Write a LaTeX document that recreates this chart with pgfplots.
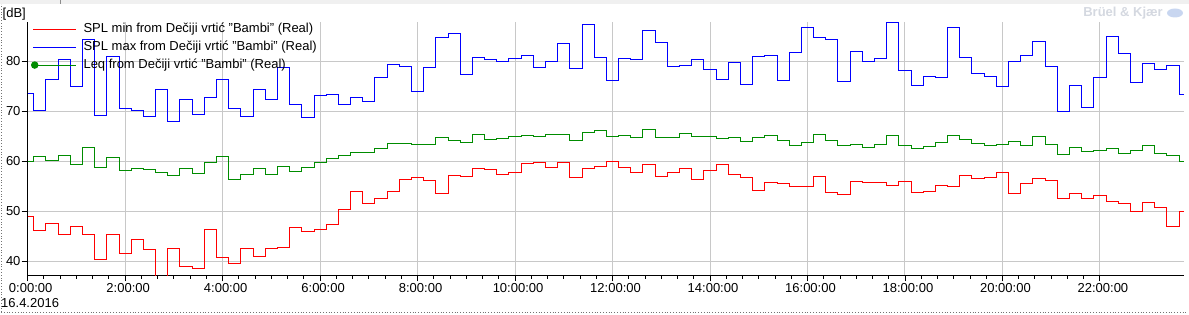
\documentclass[border=0pt]{standalone}
\usepackage{fontspec}
\setmainfont{Liberation Sans}
\usepackage{pgfplots}
\pgfplotsset{compat=1.18}
\usepackage{pgfplotstable}
\definecolor{splred}{RGB}{255,0,0}
\definecolor{splblue}{RGB}{0,0,255}
\definecolor{leqgreen}{RGB}{0,140,0}
\definecolor{gridgray}{RGB}{200,200,200}
\definecolor{logogray}{RGB}{212,216,224}
\definecolor{logoblue}{RGB}{200,214,240}

\pgfplotstableread{
t max leq min
0.00 73.6 60.0 48.9
0.25 70.2 61.0 46.1
0.50 76.4 60.1 47.6
0.75 80.4 61.2 45.4
1.00 75.0 59.4 46.9
1.25 84.3 62.8 45.4
1.50 69.2 58.8 40.4
1.75 80.9 60.8 45.4
2.00 70.5 58.2 41.6
2.25 70.2 58.5 44.4
2.50 69.0 58.3 42.4
2.75 74.4 57.8 36.0
3.00 68.0 57.2 42.5
3.25 72.3 58.5 38.9
3.50 69.4 57.6 38.6
3.75 72.8 59.8 46.3
4.00 76.4 60.9 40.8
4.25 70.5 56.4 39.5
4.50 69.0 57.4 42.6
4.75 74.4 58.6 41.0
5.00 72.3 57.4 42.5
5.25 78.8 58.9 42.7
5.50 71.4 58.0 46.8
5.75 68.8 58.8 45.9
6.00 73.2 59.7 46.3
6.25 73.4 60.6 47.4
6.50 71.4 61.1 50.4
6.75 72.8 61.8 54.0
7.00 72.0 61.8 51.5
7.25 76.8 62.6 52.6
7.50 79.4 63.6 54.0
7.75 79.0 63.6 56.4
8.00 74.0 63.4 56.8
8.25 78.8 63.4 56.2
8.50 84.8 64.8 53.6
8.75 85.6 64.2 57.2
9.00 77.4 63.8 57.0
9.25 80.8 65.4 58.6
9.50 80.4 64.4 58.4
9.75 80.0 64.6 57.4
10.00 80.6 65.0 57.8
10.25 81.2 65.2 59.6
10.50 78.8 65.0 59.8
10.75 80.0 65.4 58.8
11.00 83.6 65.4 59.8
11.25 78.6 64.2 56.8
11.50 87.4 65.8 58.6
11.75 80.8 66.2 59.0
12.00 76.2 65.0 60.0
12.25 80.6 65.2 58.8
12.50 80.4 64.8 57.8
12.75 86.2 66.4 59.4
13.00 83.8 64.8 57.0
13.25 79.0 64.8 57.8
13.50 79.2 65.6 58.6
13.75 80.4 65.0 56.4
14.00 78.4 65.0 58.2
14.25 76.4 64.6 59.4
14.50 79.8 64.8 57.4
14.75 75.4 64.0 56.8
15.00 81.0 64.8 54.2
15.25 81.2 65.2 55.8
15.50 76.2 64.2 55.6
15.75 81.8 63.2 55.0
16.00 86.8 63.8 55.0
16.25 84.8 65.4 57.0
16.50 84.4 64.2 53.8
16.75 76.0 63.2 53.4
17.00 82.0 63.4 56.0
17.25 80.0 62.8 55.8
17.50 80.6 63.4 55.8
17.75 87.8 65.2 55.2
18.00 78.2 63.2 56.0
18.25 75.2 62.6 53.8
18.50 77.0 63.0 54.0
18.75 76.8 63.8 55.2
19.00 86.8 65.2 55.0
19.25 80.8 64.4 57.2
19.50 77.6 63.6 56.6
19.75 77.0 63.2 56.8
20.00 75.0 63.4 57.8
20.25 80.0 64.0 53.6
20.50 81.2 63.2 55.6
20.75 84.0 65.0 56.6
21.00 79.0 63.4 56.2
21.25 70.0 61.4 52.6
21.50 75.2 62.8 53.6
21.75 70.8 62.0 52.6
22.00 76.8 62.2 53.2
22.25 85.0 62.6 52.0
22.50 81.6 61.6 51.6
22.75 75.8 62.2 50.0
23.00 79.6 63.2 51.8
23.25 78.4 61.6 50.8
23.50 79.2 61.2 47.0
23.75 73.4 60.0 50.0
}\datatable

\begin{document}
\begin{tikzpicture}[x=1pt,y=1pt]
\path[use as bounding box] (0,0) rectangle (1189,315);
\fill[black!6] (0,311) rectangle (1189,315);
\draw[black!45] (60,311) -- (60,315);
\draw[black!55, dotted, line width=0.8pt] (1,3) -- (1188,3);
\draw[black!55, dotted, line width=0.8pt] (1,3) -- (1,311);
\node[anchor=west, inner sep=0pt, font=\fontsize{13}{15}\selectfont] at (2.5,301) {[dB]};
\node[anchor=west, inner sep=0pt, font=\fontsize{13}{15}\selectfont] at (1,11.7) {16.4.2016};
\node[anchor=east, inner sep=0pt, text=logogray, font=\bfseries\fontsize{13}{15}\selectfont] at (1163,302) {Brüel \& Kjær};
\fill[logoblue] (1175,302) ellipse (8 and 4.5);
\begin{axis}[
  at={(27.67pt,39.7pt)}, anchor=south west,
  scale only axis, width=1156.3pt, height=253.6pt,
  xmin=0, xmax=23.725, ymin=37.21, ymax=87.93,
  axis lines*=left,
  axis line style={black, line width=1pt},
  xtick={0,2,...,22},
  xticklabels={0:00:00,2:00:00,4:00:00,6:00:00,8:00:00,10:00:00,12:00:00,14:00:00,16:00:00,18:00:00,20:00:00,22:00:00},
  minor x tick num=5,
  ytick={40,50,60,70,80},
  tick align=outside,
  major tick length=6pt, minor tick length=3.3pt,
  every tick/.style={black, line width=0.9pt},
  xmajorgrids, ymajorgrids,
  major grid style={gridgray, line width=1pt},
  tick label style={font=\fontsize{13}{15}\selectfont, text=black},
  /pgf/number format/assume math mode=true,
  xticklabel style={inner sep=1.5pt, xshift=3pt},
  yticklabel style={inner sep=1pt},
  legend style={at={(axis description cs:0.0029,0.995)}, anchor=north west,
    draw=none, fill=none, inner sep=0pt, outer sep=0pt,
    font=\fontsize{13}{15}\selectfont, column sep=7pt, row sep=5.8pt,
    nodes={inner sep=0pt, text height=9.5pt, text depth=2.7pt}},
  legend cell align=left,
]
\addplot[splred, line width=1pt, const plot mark mid,
  legend image code/.code={\draw[splred, line width=1pt] (0pt,0pt) -- (43pt,0pt);}]
  table[x=t, y=min] {\datatable};
\addlegendentry{SPL min from Dečiji vrtić "Bambi" (Real)}
\addplot[splblue, line width=1pt, const plot mark mid,
  legend image code/.code={\draw[splblue, line width=1pt] (0pt,0pt) -- (43pt,0pt);}]
  table[x=t, y=max] {\datatable};
\addlegendentry{SPL max from Dečiji vrtić "Bambi" (Real)}
\addplot[leqgreen, line width=1pt, const plot mark mid,
  legend image code/.code={\draw[leqgreen, line width=1pt] (0pt,0pt) -- (43pt,0pt); \fill[leqgreen] (1.7pt,0pt) circle (3.2pt);}]
  table[x=t, y=leq] {\datatable};
\addlegendentry{Leq from Dečiji vrtić "Bambi" (Real)}
\end{axis}
\end{tikzpicture}
\end{document}
